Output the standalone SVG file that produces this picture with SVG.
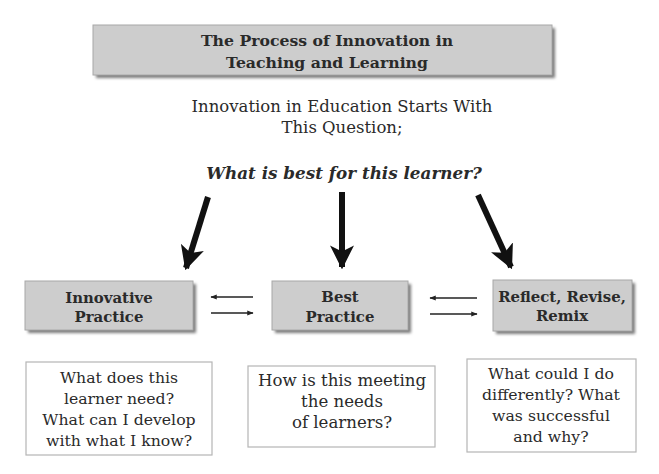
<svg xmlns="http://www.w3.org/2000/svg" width="659" height="474" viewBox="0 0 659 474">
<style>
.serif{font-family:"DejaVu Serif","Liberation Serif",serif;fill:#2a2a2a;text-anchor:middle}
.hdr{font-size:15.7px;font-weight:bold}
.lbl{font-size:14.9px;font-weight:bold}
.q{font-size:15.7px}
.gray{fill:#cdcdcd;stroke:#a8a8a8;stroke-width:1}
.shadow{fill:#7a7a7a;filter:url(#blur)}
.wbox{fill:#fff;stroke:#b5b5b5;stroke-width:1.2}
.thin{stroke:#222;stroke-width:1.6;fill:none}
.thick{stroke:#111;stroke-width:6;fill:none}
</style>
<defs>
<filter id="blur" x="-10%" y="-20%" width="120%" height="140%"><feGaussianBlur stdDeviation="1.5"/></filter>
<marker id="big" viewBox="0 0 10 10" refX="9" refY="5" markerWidth="4" markerHeight="4" orient="auto" markerUnits="strokeWidth">
<path d="M0,0 L10,5 L0,10 L2.5,5 Z" fill="#111"/>
</marker>
<marker id="small" viewBox="0 0 10 10" refX="9" refY="5" markerWidth="4" markerHeight="4" orient="auto" markerUnits="strokeWidth">
<path d="M0,1 L10,5 L0,9 Z" fill="#222"/>
</marker>
</defs>
<rect width="659" height="474" fill="#fff"/>

<g id="title">
<rect class="shadow" x="96" y="28" width="459" height="50"/>
<rect class="gray" x="93" y="25" width="459" height="50"/>
<text class="serif hdr" x="327" y="46">The Process of Innovation in</text>
<text class="serif hdr" x="327" y="68">Teaching and Learning</text>
</g>

<g id="intro">
<text class="serif" style="font-size:16.5px" x="342" y="112">Innovation in Education Starts With</text>
<text class="serif" style="font-size:16.5px" x="342" y="133">This Question;</text>
</g>

<g id="question">
<text class="serif" style="font-size:16.8px;font-weight:bold;font-style:italic" x="344" y="179">What is best for this learner?</text>
</g>

<g id="innovative">
<rect class="shadow" x="28" y="284" width="168" height="49"/>
<rect class="gray" x="25" y="281" width="168" height="49"/>
<text class="serif lbl" x="109" y="303">Innovative</text>
<text class="serif lbl" x="109" y="322">Practice</text>
</g>

<g id="best">
<rect class="shadow" x="275" y="284" width="136" height="49"/>
<rect class="gray" x="272" y="281" width="136" height="49"/>
<text class="serif lbl" x="340" y="302">Best</text>
<text class="serif lbl" x="340" y="322">Practice</text>
</g>

<g id="reflect">
<rect class="shadow" x="496" y="283" width="139" height="51"/>
<rect class="gray" x="493" y="280" width="139" height="51"/>
<text class="serif lbl" x="562" y="302">Reflect, Revise,</text>
<text class="serif lbl" x="562" y="321">Remix</text>
</g>

<g id="q1">
<rect class="wbox" x="26" y="362" width="186" height="93"/>
<text class="serif q" x="119" y="383">What does this</text>
<text class="serif q" x="119" y="404">learner need?</text>
<text class="serif q" x="119" y="425">What can I develop</text>
<text class="serif q" x="119" y="446">with what I know?</text>
</g>

<g id="q2">
<rect class="wbox" x="248" y="366" width="187" height="81"/>
<text class="serif q" style="font-size:16.6px" x="342" y="386">How is this meeting</text>
<text class="serif q" style="font-size:16.6px" x="342" y="407">the needs</text>
<text class="serif q" style="font-size:16.6px" x="342" y="428">of learners?</text>
</g>

<g id="q3">
<rect class="wbox" x="467" y="359" width="169" height="93"/>
<text class="serif q" x="551" y="379">What could I do</text>
<text class="serif q" x="551" y="400">differently? What</text>
<text class="serif q" x="551" y="421">was successful</text>
<text class="serif q" x="551" y="442">and why?</text>
</g>

<g id="connectors">
<line class="thick" x1="208" y1="197" x2="186" y2="268" marker-end="url(#big)"/>
<line class="thick" x1="342" y1="192" x2="342" y2="267" marker-end="url(#big)"/>
<line class="thick" x1="478" y1="195" x2="511" y2="267" marker-end="url(#big)"/>
<line class="thin" x1="253" y1="297" x2="211" y2="297" marker-end="url(#small)"/>
<line class="thin" x1="211" y1="313" x2="253" y2="313" marker-end="url(#small)"/>
<line class="thin" x1="477" y1="298" x2="430" y2="298" marker-end="url(#small)"/>
<line class="thin" x1="430" y1="314" x2="477" y2="314" marker-end="url(#small)"/>
</g>
</svg>
